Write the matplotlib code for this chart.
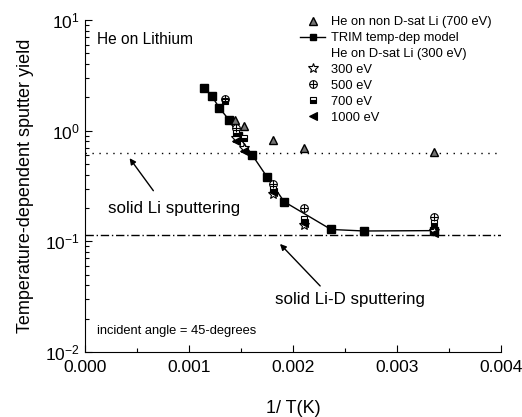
import matplotlib
matplotlib.use("Agg")
import matplotlib.pyplot as plt
from matplotlib.ticker import MultipleLocator, LogLocator, NullFormatter
from matplotlib.lines import Line2D

plt.rcParams['font.family'] = ['Liberation Sans', 'DejaVu Sans']

# TRIM temperature-dependent model
trim_x = [0.001147, 0.001218, 0.001291, 0.001385, 0.001474, 0.001609,
          0.001748, 0.001915, 0.002365, 0.002683, 0.003356]
trim_y = [2.45, 2.06, 1.61, 1.25, 0.90, 0.60, 0.384, 0.228, 0.128, 0.124, 0.125]

# He on non D-sat Li (700 eV)
nondsat_x = [0.001442, 0.001532, 0.00181, 0.002106, 0.003356]
nondsat_y = [1.24, 1.10, 0.82, 0.70, 0.64]

# He on D-sat Li
e300_x = [0.001447, 0.00153, 0.00181, 0.002106, 0.003356]
e300_y = [0.85, 0.70, 0.27, 0.14, 0.125]
e500_x = [0.001346, 0.001447, 0.00181, 0.002106, 0.003356]
e500_y = [1.95, 1.05, 0.33, 0.20, 0.165]
e700_x = [0.001346, 0.001447, 0.00153, 0.00181, 0.002106, 0.003356]
e700_y = [1.85, 0.95, 0.85, 0.30, 0.16, 0.145]
e1000_x = [0.001447, 0.00153, 0.00181, 0.002106, 0.003356]
e1000_y = [0.80, 0.66, 0.28, 0.145, 0.12]

solid_li = 0.632
solid_lid = 0.114

fig = plt.figure(figsize=(5.22, 4.17), dpi=100)
ax = fig.add_axes([0.1628, 0.1559, 0.7972, 0.7961])

ax.axhline(solid_li, color='black', ls=(0, (1, 4)), lw=1.0)
ax.axhline(solid_lid, color='black', ls=(0, (6, 2, 1, 2)), lw=1.0)

ms = 5.5
tri_style = dict(marker='^', ms=ms, mfc='0.45', mec='black', mew=1.0)
star_style = dict(marker='*', ms=ms + 1.5, mfc='white', mec='black', mew=0.8)
circ_style = dict(marker='o', ms=ms, mfc='white', mec='black', mew=0.8)
plus_style = dict(marker='+', ms=ms, mec='black', mew=0.8)
sq_style = dict(marker='s', ms=ms - 0.5, fillstyle='bottom', mfc='black',
                mfcalt='white', mec='black', mew=0.8)
left_style = dict(marker='<', ms=ms, mfc='black', mec='black', mew=0.8)

ax.plot(trim_x, trim_y, '-', color='black', lw=1.0, marker='s', ms=ms,
        mfc='black', mec='black', zorder=3)
ax.plot(nondsat_x, nondsat_y, ls='none', zorder=4, **tri_style)
ax.plot(e300_x, e300_y, ls='none', zorder=4, **star_style)
ax.plot(e500_x, e500_y, ls='none', zorder=4, **circ_style)
ax.plot(e500_x, e500_y, ls='none', zorder=5, **plus_style)
ax.plot(e700_x, e700_y, ls='none', zorder=4, **sq_style)
ax.plot(e1000_x, e1000_y, ls='none', zorder=4, **left_style)

ax.set_yscale('log')
ax.set_xlim(0, 0.004)
ax.set_ylim(0.01, 10)
ax.xaxis.set_major_locator(MultipleLocator(0.001))
ax.xaxis.set_minor_locator(MultipleLocator(0.0005))
ax.xaxis.set_major_formatter(plt.FuncFormatter(lambda v, p: f"{v:.3f}"))
ax.yaxis.set_major_locator(LogLocator(base=10, numticks=10))
ax.yaxis.set_minor_locator(LogLocator(base=10, subs=range(2, 10), numticks=10))
ax.yaxis.set_minor_formatter(NullFormatter())
ax.tick_params(which='major', direction='in', length=5, labelsize=12.5, width=0.8)
ax.tick_params(which='minor', direction='in', length=3, width=0.8)
ax.tick_params(axis='x', which='major', pad=6)
ax.spines['top'].set_visible(False)
ax.spines['right'].set_visible(False)

ax.set_xlabel('1/ T(K)', fontsize=13, labelpad=18)
ax.set_ylabel('Temperature-dependent sputter yield', fontsize=13, labelpad=8)

ax.text(0.000115, 6.6, 'He on Lithium', fontsize=11.2, va='center', ha='left')
ax.text(0.000856, 0.196, 'solid Li sputtering', fontsize=12.2, va='center', ha='center')
ax.text(0.002548, 0.0296, 'solid Li-D sputtering', fontsize=12.2, va='center', ha='center')
ax.text(0.000115, 0.0155, 'incident angle = 45-degrees', fontsize=9.3, va='center', ha='left')

ax.annotate('', xy=(0.000413, 0.591), xytext=(0.000673, 0.2737),
            arrowprops=dict(arrowstyle='-|>', color='black', lw=1.0, mutation_scale=9))
ax.annotate('', xy=(0.001856, 0.0988), xytext=(0.002279, 0.0379),
            arrowprops=dict(arrowstyle='-|>', color='black', lw=1.0, mutation_scale=9))

# legend
h_tri = Line2D([], [], ls='none', **tri_style)
h_trim = Line2D([], [], ls='-', color='black', lw=1.0, marker='s', ms=ms - 1)
h_blank = Line2D([], [], ls='none')
h_300 = Line2D([], [], ls='none', **star_style)
h_500a = Line2D([], [], ls='none', **circ_style)
h_500b = Line2D([], [], ls='none', **plus_style)
h_700 = Line2D([], [], ls='none', **sq_style)
h_1000 = Line2D([], [], ls='none', **left_style)
leg = ax.legend([h_tri, h_trim, h_blank, h_300, (h_500a, h_500b), h_700, h_1000],
                ['He on non D-sat Li (700 eV)', 'TRIM temp-dep model',
                 'He on D-sat Li (300 eV)', '300 eV', '500 eV', '700 eV', '1000 eV'],
                loc='upper right', bbox_to_anchor=(0.995, 1.035), frameon=False,
                fontsize=9.3, handlelength=2.0, handletextpad=0.4,
                labelspacing=0.3, borderaxespad=0.2)

fig.savefig('out.png', dpi=100)
